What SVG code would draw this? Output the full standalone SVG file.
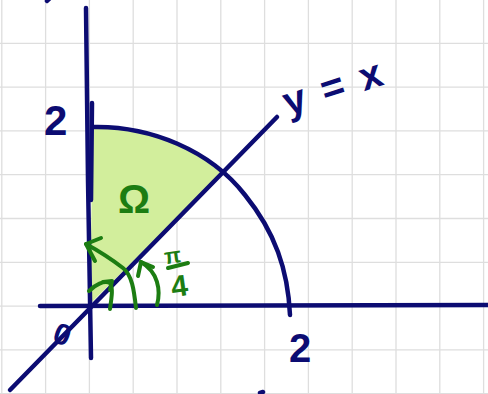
<svg xmlns="http://www.w3.org/2000/svg" width="488" height="394" viewBox="0 0 488 394">
<style>
.grid{stroke:#dedede;stroke-width:1.3}
.ink{fill:none;stroke:#0c0c72;stroke-width:4.5;stroke-linecap:round;stroke-linejoin:round}
.g{fill:none;stroke:#1c7d12;stroke-width:4;stroke-linecap:round;stroke-linejoin:round}
.lbl{font-family:"Liberation Sans",Arial,sans-serif;font-weight:bold;fill:#0c0c72}
.glbl{font-family:"Liberation Sans",Arial,sans-serif;font-weight:bold;fill:#1c7d12}
</style>
<rect width="488" height="394" fill="#ffffff"/>
<g id="grid" class="grid">
<path d="M1.8 0V394M45.6 0V394M89.4 0V394M133.2 0V394M177 0V394M220.8 0V394M264.6 0V394M308.4 0V394M352.2 0V394M396 0V394M439.8 0V394M483.6 0V394"/>
<path d="M0 43.3H488M0 87.1H488M0 130.9H488M0 174.7H488M0 218.5H488M0 262.3H488M0 306.1H488M0 349.9H488M0 393.7H488"/>
</g>
<g id="region">
<path d="M93 128 C130 126 185 140 222 173 L92 302 C90 250 92 180 93 128Z" fill="#d2ee9c"/>
</g>
<g id="axes">
<path class="ink" d="M86 8 L88 180 L91 358"/>
<path class="ink" d="M92 103 L91 200"/>
<path class="ink" d="M40 306 L488 305"/>
<path class="ink" d="M10 390 L277 117"/>
<path class="ink" d="M94 127 C150 126 210 150 245 195 C275 232 288 270 290 315"/>
<path class="ink" d="M47 1 L50 -2" />
<path class="ink" d="M260 393 L263 392" />
</g>
<g id="arrows">
<path class="g" d="M110 309 C112 295 113 288 110 283 C104 280 95 285 89 291"/>
<path class="g" d="M103 282 L112 281 L110 290"/>
<path class="g" d="M136 308 C134 290 132 275 123 268 C110 258 97 250 86 244"/>
<path class="g" d="M86 244 L101 238 M86 244 L95 261"/>
<path class="g" d="M157 305 C161 290 158 272 141 262"/>
<path class="g" d="M141 262 L138 276 M141 262 L153 267"/>
</g>
<g id="labels">
<text class="lbl" x="44" y="135" font-size="42">2</text>
<text class="lbl" x="289" y="362" font-size="40">2</text>
<text class="lbl" x="54" y="345" font-size="30" transform="rotate(20 63 335)">0</text>
<text class="lbl" x="288" y="116" font-size="40" letter-spacing="3" transform="rotate(-18 288 116)">y = x</text>
<text class="glbl" x="118" y="213" font-size="40">Ω</text>
<text class="glbl" x="164" y="263" font-size="22" transform="rotate(-8 174 255)">π</text>
<path class="g" d="M168 268 L188 263"/>
<text class="glbl" x="171" y="296" font-size="30" transform="rotate(-8 180 285)">4</text>
</g>
</svg>
